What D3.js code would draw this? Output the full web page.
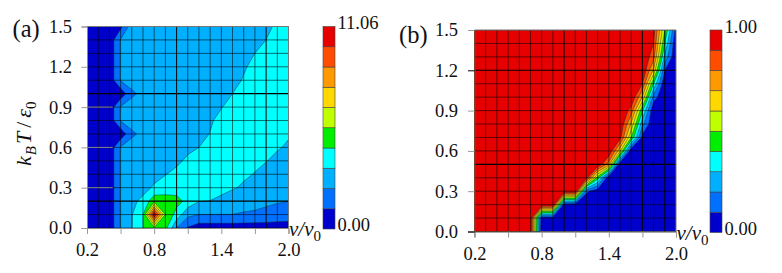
<!DOCTYPE html>
<html>
<head>
<meta charset="utf-8">
<script src="https://d3js.org/d3.v7.min.js"></script>
<style>
  html, body { margin: 0; background: #fff; }
  text { font-family: "Liberation Serif", serif; fill: #111; }
  .tick text { font-size: 18.5px; }
</style>
</head>
<body>
<svg width="782" height="273"></svg>
<script>
const velocities = [0.2, 0.3, 0.4, 0.5, 0.6, 0.7, 0.8, 0.9, 1.0, 1.1, 1.2, 1.3, 1.4, 1.5, 1.6, 1.7, 1.8, 1.9, 2.0];
const temperatures = [0.0, 0.1, 0.2, 0.3, 0.4, 0.5, 0.6, 0.7, 0.8, 0.9, 1.0, 1.1, 1.2, 1.3, 1.4, 1.5];
const xTicks = [0.2, 0.5, 0.8, 1.1, 1.4, 1.7, 2.0];
const xTickLabels = [0.2, 0.8, 1.4, 2.0];
const yTicks = [0.0, 0.3, 0.6, 0.9, 1.2, 1.5];

// colour bands, lowest first
const bandColors = ['#0000cc', '#0070ff', '#00b0ff', '#00ffff', '#00ee00', '#bfff00', '#ffd800', '#ff9900', '#ff4d00', '#e60000'];

// panel (a): one row per temperature, lowest first
const valuesA = [
  [.1, .1, .3, 2.3, 3.28, 4.4, 5.3, 4.8, 2.2, 1.0, .5, .5, .5, .5, .5, .5, .5, .5, .5],
  [.1, .1, .3, 2.3, 3.25, 4.4, 11.06, 5.5, 4.0, 2.5, 2.2, 2.2, 2.2, 2.2, 2.1, 2.05, 1.95, 1.8, 1.7],
  [.1, .1, .3, 2.3, 3.1, 3.55, 5.2, 5.0, 4.8, 4.1, 3.35, 3.3, 3.0, 2.85, 2.7, 2.55, 2.4, 2.3, 2.22],
  [.1, .1, .3, 2.3, 2.8, 3.0, 3.45, 3.8, 3.9, 3.9, 3.8, 3.75, 3.7, 3.4, 3.2, 2.95, 2.75, 2.55, 2.4],
  [.1, .1, .3, 2.3, 2.7, 2.9, 3.0, 3.28, 3.6, 3.7, 3.7, 3.7, 3.7, 3.6, 3.45, 3.28, 3.0, 2.8, 2.65],
  [.1, .1, .3, 2.3, 2.7, 2.8, 2.9, 3.0, 3.1, 3.5, 3.6, 3.7, 3.7, 3.7, 3.6, 3.5, 3.35, 3.1, 2.9],
  [.1, .1, .3, 2.3, 2.7, 2.8, 2.9, 2.9, 3.0, 3.1, 3.32, 3.5, 3.6, 3.7, 3.7, 3.6, 3.5, 3.4, 3.2],
  [.1, .1, .3, .3, 2.0, 2.5, 2.8, 2.9, 2.9, 3.0, 3.0, 3.35, 3.5, 3.6, 3.7, 3.7, 3.6, 3.5, 3.4],
  [.1, .1, .3, 2.3, 2.7, 2.8, 2.9, 2.9, 3.0, 3.0, 3.1, 3.2, 3.6, 3.7, 3.7, 3.7, 3.7, 3.6, 3.6],
  [.1, .1, .3, 2.3, 2.7, 2.8, 2.9, 2.9, 3.0, 3.0, 3.1, 3.2, 3.28, 3.6, 3.7, 3.7, 3.7, 3.7, 3.7],
  [.1, .1, .3, .3, 2.0, 2.5, 2.8, 2.9, 2.9, 3.0, 3.0, 3.0, 3.1, 3.32, 3.5, 3.6, 3.7, 3.7, 3.7],
  [.1, .1, .3, 2.3, 2.7, 2.8, 2.9, 2.9, 2.9, 3.0, 3.0, 3.0, 3.0, 3.0, 3.4, 3.6, 3.7, 3.7, 3.7],
  [.1, .1, .3, 2.3, 2.7, 2.9, 2.9, 2.9, 2.9, 3.0, 3.0, 3.0, 3.0, 3.1, 3.2, 3.6, 3.7, 3.7, 3.7],
  [.1, .1, .3, 2.3, 2.7, 2.9, 2.9, 2.9, 2.9, 3.0, 3.0, 3.0, 3.0, 3.0, 3.1, 3.32, 3.5, 3.6, 3.7],
  [.1, .1, .3, 2.3, 2.7, 2.9, 2.9, 2.9, 2.9, 3.0, 3.0, 3.0, 3.0, 3.0, 3.0, 3.1, 3.32, 3.5, 3.7],
  [.1, .1, .3, .8, 2.8, 2.9, 2.9, 2.9, 2.9, 3.0, 3.0, 3.0, 3.0, 3.0, 3.0, 3.05, 3.15, 3.45, 3.7]
];

// panel (b): same layout
const valuesB = [
  [1, 1, 1, 1, 1, 1, 0, 0, 0, 0, 0, 0, 0, 0, 0, 0, 0, 0, 0],
  [1, 1, 1, 1, 1, 1, .03, .03, 0, 0, 0, 0, 0, 0, 0, 0, 0, 0, 0],
  [1, 1, 1, 1, 1, 1, 1, 1, .03, .03, 0, 0, 0, 0, 0, 0, 0, 0, 0],
  [1, 1, 1, 1, 1, 1, 1, 1, 1, 1, .12, .03, 0, 0, 0, 0, 0, 0, 0],
  [1, 1, 1, 1, 1, 1, 1, 1, 1, 1, .95, .45, 0, 0, 0, 0, 0, 0, 0],
  [1, 1, 1, 1, 1, 1, 1, 1, 1, 1, 1, 1, .75, 0, 0, 0, 0, 0, 0],
  [1, 1, 1, 1, 1, 1, 1, 1, 1, 1, 1, 1, 1, .63, 0, 0, 0, 0, 0],
  [1, 1, 1, 1, 1, 1, 1, 1, 1, 1, 1, 1, 1, .94, .5, .06, 0, 0, 0],
  [1, 1, 1, 1, 1, 1, 1, 1, 1, 1, 1, 1, 1, 1, .68, .23, 0, 0, 0],
  [1, 1, 1, 1, 1, 1, 1, 1, 1, 1, 1, 1, 1, 1, .86, .41, 0, 0, 0],
  [1, 1, 1, 1, 1, 1, 1, 1, 1, 1, 1, 1, 1, 1, 1, .69, .15, 0, 0],
  [1, 1, 1, 1, 1, 1, 1, 1, 1, 1, 1, 1, 1, 1, 1, .9, .4, 0, 0],
  [1, 1, 1, 1, 1, 1, 1, 1, 1, 1, 1, 1, 1, 1, 1, 1, .68, .1, 0],
  [1, 1, 1, 1, 1, 1, 1, 1, 1, 1, 1, 1, 1, 1, 1, 1, .84, .27, 0],
  [1, 1, 1, 1, 1, 1, 1, 1, 1, 1, 1, 1, 1, 1, 1, 1, .9, .4, 0],
  [1, 1, 1, 1, 1, 1, 1, 1, 1, 1, 1, 1, 1, 1, 1, 1, .94, .5, .06]
];

const svg = d3.select('svg');

function drawPanel(p) {
  const x = d3.scaleLinear().domain([0.2, 2.0]).range([p.left, p.left + 201.5]);
  const y = d3.scaleLinear().domain([0, 1.5]).range([p.top + 201.5, p.top]);
  const g = svg.append('g');

  g.append('clipPath').attr('id', 'clip' + p.id)
    .append('rect')
    .attr('x', x(0.2)).attr('y', y(1.5))
    .attr('width', x(2.0) - x(0.2)).attr('height', y(0) - y(1.5));

  // contour bands, each one stacked on the previous
  const step = p.max / bandColors.length;
  const thresholds = bandColors.slice(1).map((c, i) => step * (i + 1));
  const contours = d3.contours()
    .size([velocities.length, temperatures.length])
    .thresholds(thresholds)(p.values.flat());

  // d3.contours puts grid point i at i + 0.5
  const project = d3.geoTransform({
    point(cx, cy) {
      this.stream.point(x(0.2 + (cx - 0.5) * 0.1), y((cy - 0.5) * 0.1));
    }
  });
  const path = d3.geoPath(project);

  const plot = g.append('g').attr('clip-path', `url(#clip${p.id})`);
  plot.append('rect')
    .attr('x', x(0.2)).attr('y', y(1.5))
    .attr('width', x(2.0) - x(0.2)).attr('height', y(0) - y(1.5))
    .attr('fill', bandColors[0]);
  plot.selectAll('path.band')
    .data(contours)
    .enter().append('path')
    .attr('class', 'band')
    .attr('d', path)
    .attr('fill', (d, i) => bandColors[i + 1])
    .attr('stroke', '#06303a')
    .attr('stroke-opacity', 0.75)
    .attr('stroke-width', 0.6);

  // mesh lines
  plot.selectAll('line.vmesh')
    .data(velocities)
    .enter().append('line')
    .attr('class', 'vmesh')
    .attr('x1', d => x(d)).attr('x2', d => x(d))
    .attr('y1', y(0)).attr('y2', y(1.5))
    .attr('stroke', '#000')
    .attr('stroke-width', d => p.strongX.includes(d) ? 1.1 : 0.8)
    .attr('stroke-opacity', d => p.strongX.includes(d) ? 0.9 : 0.7);
  plot.selectAll('line.hmesh')
    .data(temperatures)
    .enter().append('line')
    .attr('class', 'hmesh')
    .attr('x1', x(0.2)).attr('x2', x(2.0))
    .attr('y1', d => y(d)).attr('y2', d => y(d))
    .attr('stroke', '#000')
    .attr('stroke-width', d => p.strongY.includes(d) ? 1.1 : 0.8)
    .attr('stroke-opacity', d => p.strongY.includes(d) ? 1 : 0.7);

  // frame on the two far sides
  g.append('path')
    .attr('d', `M${x(0.2)},${y(1.5)}H${x(2.0)}V${y(0)}`)
    .attr('fill', 'none').attr('stroke', '#777').attr('stroke-width', 1);

  const xAxis = d3.axisBottom(x).tickValues(xTicks).tickSize(6).tickPadding(p.xPad)
    .tickFormat(d => xTickLabels.includes(d) ? d.toFixed(1) : '');
  const xg = g.append('g').attr('transform', `translate(0,${y(0)})`).call(xAxis);
  const yAxis = d3.axisLeft(y).tickValues(yTicks).tickSize(p.yTickSize).tickPadding(p.yPad)
    .tickFormat(d => d.toFixed(1));
  const yg = g.append('g').attr('transform', `translate(${x(0.2)},0)`).call(yAxis);
  [xg, yg].forEach(a => {
    a.select('.domain').attr('stroke', p.axisColor).attr('stroke-width', 1);
    a.selectAll('.tick line').attr('stroke', '#999').attr('stroke-width', 1);
  });
  yg.selectAll('.tick line').attr('stroke', d => p.darkTicks.includes(d) ? '#000' : '#999');

  // the y ticks of the left panel run on into the plot
  g.selectAll('line.inner')
    .data(p.innerTicks)
    .enter().append('line')
    .attr('class', 'inner')
    .attr('x1', x(0.2)).attr('x2', x(0.43))
    .attr('y1', d => y(d)).attr('y2', d => y(d))
    .attr('stroke', '#8a8a8a').attr('stroke-width', 1);

  g.append('text').attr('x', p.labelX).attr('y', p.labelY)
    .attr('font-size', 24.5).text(p.label);

  const vLabel = g.append('text')
    .attr('x', x(2.0) + 0.5).attr('y', y(0) + 8)
    .attr('font-size', 21).attr('font-style', 'italic');
  vLabel.append('tspan').text('v/v');
  vLabel.append('tspan').attr('dy', 5).attr('font-size', 15).attr('font-style', 'normal').text('0');

  // colour bar
  const barY = d3.scaleLinear().domain([0, bandColors.length]).range([y(0) + 1, y(1.5)]);
  g.selectAll('rect.bar')
    .data(bandColors)
    .enter().append('rect')
    .attr('class', 'bar')
    .attr('x', p.barX).attr('width', 12)
    .attr('y', (d, i) => barY(i + 1))
    .attr('height', (d, i) => barY(i) - barY(i + 1))
    .attr('fill', d => d)
    .attr('stroke', '#444').attr('stroke-width', 0.6);
  g.append('text').attr('x', p.barX + 14.5).attr('y', y(1.5) + 2.5)
    .attr('font-size', 18.5).text(p.maxLabel);
  g.append('text').attr('x', p.barX + 14.5).attr('y', y(0) + 3)
    .attr('font-size', 18.5).text('0.00');
}

drawPanel({
  id: 'a', label: '(a)', labelX: 12.5, labelY: 37, left: 87, top: 26.5,
  values: valuesA, max: 11.06, maxLabel: '11.06', barX: 323,
  strongX: [1.0, 1.8], strongY: [0.2, 1.0], darkTicks: [],
  xPad: 9, yPad: 9.5,
  yTickSize: 5.5, axisColor: '#888', innerTicks: [0.3, 0.6, 0.9]
});

drawPanel({
  id: 'b', label: '(b)', labelX: 399, labelY: 43, left: 474.5, top: 30,
  values: valuesB, max: 1, maxLabel: '1.00', barX: 710,
  strongX: [1.0, 1.7, 1.9], strongY: [0.0, 0.5, 1.2], darkTicks: [0, 1.2],
  xPad: 9.5, yPad: 10,
  yTickSize: 6.5, axisColor: '#555', innerTicks: []
});

// rotated y title of panel (a)
const yTitle = svg.append('text')
  .attr('transform', 'translate(31,166) rotate(-90)')
  .attr('font-size', 22).attr('font-style', 'italic');
yTitle.append('tspan').text('k');
yTitle.append('tspan').attr('dy', 5).attr('font-size', 15).attr('dx', 1).text('B');
yTitle.append('tspan').attr('dy', -5).attr('dx', 2).text('T');
yTitle.append('tspan').attr('dx', 4).attr('font-style', 'normal').text('/');
yTitle.append('tspan').attr('dx', 4).text('ε');
yTitle.append('tspan').attr('dy', 5).attr('font-size', 15).attr('font-style', 'normal').text('0');
</script>
</body>
</html>
